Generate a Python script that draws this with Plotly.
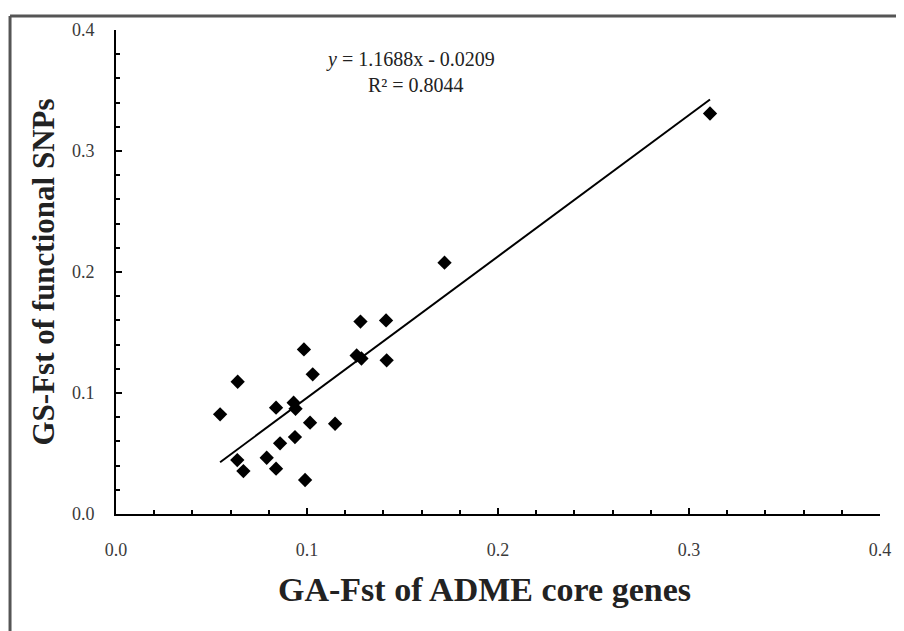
import plotly.graph_objects as go

# Data
ga_fst = [0.0545, 0.0637, 0.0635, 0.0667, 0.0789, 0.0838, 0.0838, 0.0859,
          0.0930, 0.0940, 0.0937, 0.0984, 0.0990, 0.1016, 0.1030, 0.1147,
          0.1260, 0.1285, 0.1280, 0.1414, 0.1417, 0.1720, 0.3110]
gs_fst = [0.0824, 0.1093, 0.0446, 0.0355, 0.0465, 0.0879, 0.0375, 0.0584,
          0.0920, 0.0870, 0.0636, 0.1360, 0.0281, 0.0755, 0.1154, 0.0746,
          0.1310, 0.1285, 0.1590, 0.1600, 0.1270, 0.2077, 0.3310]

slope = 1.1688
intercept = -0.0209
r_squared = 0.8044

tick_vals = [0.0, 0.1, 0.2, 0.3, 0.4]
tick_text = ["0.0", "0.1", "0.2", "0.3", "0.4"]

x_title = "GA-Fst of ADME core genes"
y_title = "GS-Fst of functional SNPs"

line_x = [min(ga_fst), max(ga_fst)]
line_y = [slope * v + intercept for v in line_x]

serif = "Liberation Serif, Times New Roman, serif"

fig = go.Figure()
fig.add_trace(go.Scatter(x=line_x, y=line_y, mode="lines",
                         line=dict(color="black", width=2), showlegend=False,
                         hoverinfo="skip"))
fig.add_trace(go.Scatter(x=ga_fst, y=gs_fst, mode="markers",
                         marker=dict(symbol="diamond", size=11, color="black"),
                         showlegend=False))

axis_common = dict(
    range=[0, 0.4], tickvals=tick_vals, ticktext=tick_text,
    showgrid=False, zeroline=False, showline=True, linecolor="black",
    linewidth=2, ticks="inside", ticklen=6, tickwidth=2, tickcolor="black",
    minor=dict(dtick=0.02, ticks="inside", ticklen=4, tickwidth=1.5,
               tickcolor="black", showgrid=False),
    tickfont=dict(family=serif, size=18, color="#3a3a3a"),
    fixedrange=True,
)

fig.update_xaxes(**axis_common, ticklabelstandoff=18)
fig.update_yaxes(**axis_common, ticklabelstandoff=16,
                 title=dict(text="<b>" + y_title + "</b>", standoff=8,
                            font=dict(family=serif, size=31, color="#222222")))

# x-axis title (placed slightly left of the plot centre, as in the reference)
fig.add_annotation(x=0.4817, y=-0.155, xref="paper", yref="paper",
                   xanchor="center", yanchor="middle", showarrow=False,
                   text="<b>" + x_title + "</b>",
                   font=dict(family=serif, size=34, color="#222222"))

eq_text = ("<i>y</i> = %.4fx - %.4f" % (slope, abs(intercept)))
r2_text = "R² = %.4f" % r_squared

fig.add_annotation(x=0.154, y=0.376, xref="x", yref="y", text=eq_text,
                   showarrow=False, font=dict(family=serif, size=20, color="#222222"))
fig.add_annotation(x=0.157, y=0.3545, xref="x", yref="y", text=r2_text,
                   showarrow=False, font=dict(family=serif, size=20, color="#222222"))

# outer frame (top and left edges)
fig.add_shape(type="line", xref="paper", yref="paper",
              x0=-0.1387, x1=1.06, y0=1.0289, y1=1.0289,
              line=dict(color="#555555", width=3))
fig.add_shape(type="line", xref="paper", yref="paper",
              x0=-0.1387, x1=-0.1387, y0=1.0289, y1=-0.28,
              line=dict(color="#555555", width=3))

# the page adds an 8px body margin, so the figure is offset by 8px
fig.update_layout(
    width=904, height=631,
    margin=dict(l=108, r=32, t=22, b=125),
    paper_bgcolor="white", plot_bgcolor="white",
)

fig.write_html("out.html")
